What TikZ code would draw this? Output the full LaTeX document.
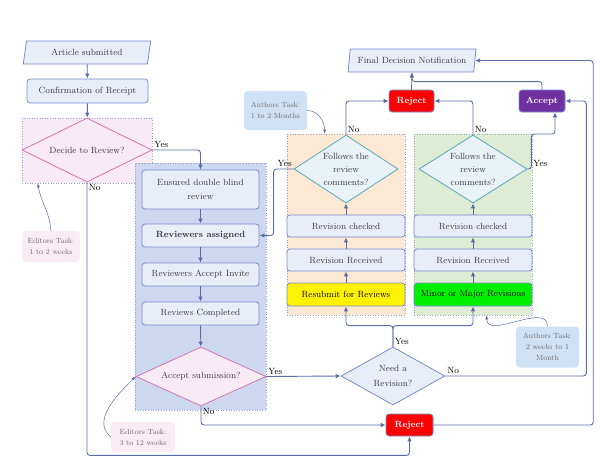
\documentclass[tikz,border=0pt]{standalone}
\usetikzlibrary{shapes.geometric,arrows.meta,positioning,calc}
\definecolor{linecol}{RGB}{92,108,168}
\definecolor{boxline}{RGB}{122,140,204}
\definecolor{boxfill}{RGB}{233,237,248}
\definecolor{pinkfill}{RGB}{249,235,246}
\definecolor{pinkline}{RGB}{210,120,180}
\definecolor{bluefill}{RGB}{206,215,240}
\definecolor{orangefill}{RGB}{252,232,211}
\definecolor{greenfill}{RGB}{221,236,211}
\definecolor{tealline}{RGB}{90,170,185}
\definecolor{tealfill}{RGB}{233,242,247}
\definecolor{regline}{RGB}{150,160,205}
\definecolor{notepink}{RGB}{249,236,245}
\definecolor{noteblue}{RGB}{207,226,245}
\definecolor{notetext}{RGB}{110,110,115}
\definecolor{txt}{RGB}{60,60,66}
\definecolor{rejred}{RGB}{255,0,0}
\definecolor{accpurple}{RGB}{112,48,160}
\definecolor{minorgreen}{RGB}{0,240,0}
\begin{document}
\begin{tikzpicture}[x=1pt,y=-1pt,font=\fontsize{9}{10.5}\selectfont]
		\tikzset{
			flowbox/.style={draw=boxline,fill=boxfill,rounded corners=3pt,line width=0.8pt,minimum width=118pt,minimum height=22pt,align=center,text=txt,inner sep=1pt},
			iobox/.style={trapezium,trapezium left angle=77,trapezium right angle=103,trapezium stretches=true,draw=boxline,fill=boxfill,line width=0.8pt,minimum width=128pt,minimum height=23pt,text=txt,inner sep=1pt},
			decision/.style={diamond,draw=boxline,fill=boxfill,line width=0.8pt,inner sep=0pt,align=center,text=txt},
			region/.style={draw=regline,dotted,line width=0.6pt},
			verdict/.style={draw=boxline,rounded corners=3pt,line width=0.8pt,minimum height=22pt,text=white,font=\fontsize{9}{10.5}\selectfont\bfseries},
			note/.style={rounded corners=4pt,align=center,text=notetext,font=\fontsize{7.5}{11}\selectfont},
			flow/.style={draw=linecol,line width=0.9pt,rounded corners=3pt,-{Latex[length=5pt,width=4.5pt]}},
			notearrow/.style={draw=linecol,line width=0.5pt,-{Latex[length=4pt,width=3pt]}},
			lbl/.style={font=\fontsize{9}{10.5}\selectfont,text=black,inner sep=1.5pt}
		}
		\useasboundingbox (0,0) rectangle (600,464);
		\node[region,fill=pinkfill,minimum width=130pt,minimum height=65pt] (regdecide) at (87,150.5) {};
		\node[region,fill=bluefill,minimum width=131pt,minimum height=247pt] (regreview) at (200.5,286.5) {};
		\node[region,fill=orangefill,minimum width=118pt,minimum height=181pt] (regresubmit) at (346,224.5) {};
		\node[region,fill=greenfill,minimum width=118pt,minimum height=181pt] (regminor) at (473,224.5) {};
		
		\node[iobox] (submitted) at (87,52.5) {Article submitted};
		\node[flowbox,minimum width=121pt,minimum height=24pt] (receipt) at (87.5,91) {Confirmation of Receipt};
		\node[decision,aspect=2.2,draw=pinkline,fill=pinkfill,minimum width=130pt,minimum height=64pt] (decide) at (87,150) {Decide to Review?};
		\node[flowbox,minimum width=117pt,minimum height=39pt,font=\fontsize{9}{14}\selectfont] (blind) at (200.5,189.5) {Ensured double blind\\review};
		\node[flowbox,minimum width=117pt,minimum height=23pt] (assigned) at (200.5,235.5) {\textbf{Reviewers assigned}};
		\node[flowbox,minimum width=117pt,minimum height=23pt] (invite) at (200.5,274.5) {Reviewers Accept Invite};
		\node[flowbox,minimum width=117pt,minimum height=23pt] (completed) at (200.5,313.5) {Reviews Completed};
		\node[decision,aspect=2.3,draw=pinkline,fill=pinkfill,minimum width=130pt,minimum height=59pt] (accsub) at (201,376.5) {Accept submission?};
		\node[decision,aspect=1.8,minimum width=104pt,minimum height=58pt,font=\fontsize{9}{15}\selectfont] (needrev) at (393,376) {Need a\\Revision?};
		\node[verdict,fill=rejred,minimum width=47pt] (rejectlow) at (409.5,425) {Reject};
		
		\node[flowbox,fill=yellow,text=black,minimum height=23pt] (resubmit) at (346,294.5) {Resubmit for Reviews};
		\node[flowbox] (received1) at (346,260) {Revision Received};
		\node[flowbox] (checked1) at (346,226) {Revision checked};
		\node[decision,aspect=1.55,draw=tealline,fill=tealfill,minimum width=104pt,minimum height=68pt,font=\fontsize{9}{13}\selectfont] (follow1) at (346,169) {Follows the\\review\\comments?};
		\node[flowbox,fill=minorgreen,text=black,minimum height=23pt] (minor) at (473,294.5) {Minor or Major Revisions};
		\node[flowbox] (received2) at (473,260) {Revision Received};
		\node[flowbox] (checked2) at (473,226) {Revision checked};
		\node[decision,aspect=1.55,draw=tealline,fill=tealfill,minimum width=108pt,minimum height=68pt,font=\fontsize{9}{13}\selectfont] (follow2) at (473,169) {Follows the\\review\\comments?};
		
		\node[verdict,fill=rejred,minimum width=45pt] (rejecttop) at (411.5,101) {Reject};
		\node[verdict,fill=accpurple,minimum width=46pt] (accept) at (542,101) {Accept};
		\node[iobox] (final) at (412,60.5) {Final Decision Notification};
		
		\node[note,fill=notepink,minimum width=58pt,minimum height=31pt] (editnote1) at (51,246.5) {Editors Task:\\1 to 2 weeks};
		\node[note,fill=notepink,minimum width=64pt,minimum height=30pt] (editnote2) at (143,437) {Editors Task:\\3 to 12 weeks};
		\node[note,fill=noteblue,minimum width=63pt,minimum height=39pt] (authnote1) at (275.5,110.5) {Authors Task:\\1 to 2 Months};
		\node[note,fill=noteblue,minimum width=63pt,minimum height=41pt] (authnote2) at (547.5,347) {Authors Task:\\2 weeks to 1\\Month};
		
		\draw[flow] (submitted) -- (receipt);
		\draw[flow] (receipt) -- (decide);
		\draw[flow] (decide.east) node[lbl,above right]{Yes} -| (blind.north);
		\draw[flow] (decide.south) node[lbl,below right]{No} |- ([yshift=-19pt]rejectlow.south) -- (rejectlow.south);
		\draw[flow] (blind) -- (assigned);
		\draw[flow] (assigned) -- (invite);
		\draw[flow] (invite) -- (completed);
		\draw[flow] (completed) -- (accsub);
		\draw[flow] (accsub.east) node[lbl,above right]{Yes} -- (needrev.west);
		\draw[flow] (accsub.south) node[lbl,below right]{No} |- (rejectlow.west);
		\draw[flow] (needrev.north) node[lbl,above right]{Yes} -- ++(0,-21) -| (resubmit.south);
		\draw[flow] (needrev.north) -- ++(0,-21) -| (minor.south);
		\draw[flow] (needrev.east) node[lbl,above right]{No} -| ([xshift=21pt]accept.east) -- (accept.east);
		\draw[flow] (rejectlow.east) -| ([xshift=118pt]final.east) -- (final.east);
		
		\draw[flow] (resubmit) -- (received1);
		\draw[flow] (received1) -- (checked1);
		\draw[flow] (checked1) -- (follow1);
		\draw[flow] (minor) -- (received2);
		\draw[flow] (received2) -- (checked2);
		\draw[flow] (checked2) -- (follow2);
		\draw[flow] (follow1.north) node[lbl,above right]{No} |- (rejecttop.west);
		\draw[flow] (follow1.west) node[lbl,above left]{Yes} -- ++(-20,0) |- (assigned.east);
		\draw[flow] (follow2.north) node[lbl,above right]{No} |- (rejecttop.east);
		\draw[flow] (follow2.east) node[lbl,above right,xshift=4pt]{Yes} -- ++(4,0) -- ++(0,-35) -| ([xshift=13pt]accept.south);
		\draw[flow] (rejecttop) -- (final);
		\draw[flow] (accept.north) -- ++(0,-8) -| (final.south);
		
		\draw[notearrow] (editnote1.north) to[out=95,in=-80] ([xshift=16pt]regdecide.south west);
		\draw[notearrow] (editnote2.west) to[out=140,in=-135] (accsub.west);
		\draw[notearrow] (authnote1.east) to[out=0,in=90] ([xshift=38pt]regresubmit.north west);
		\draw[notearrow] (authnote2.north) .. controls +(0,-25) and +(0,25) .. ([xshift=73pt]regminor.south west);
	\end{tikzpicture}
\end{document}
